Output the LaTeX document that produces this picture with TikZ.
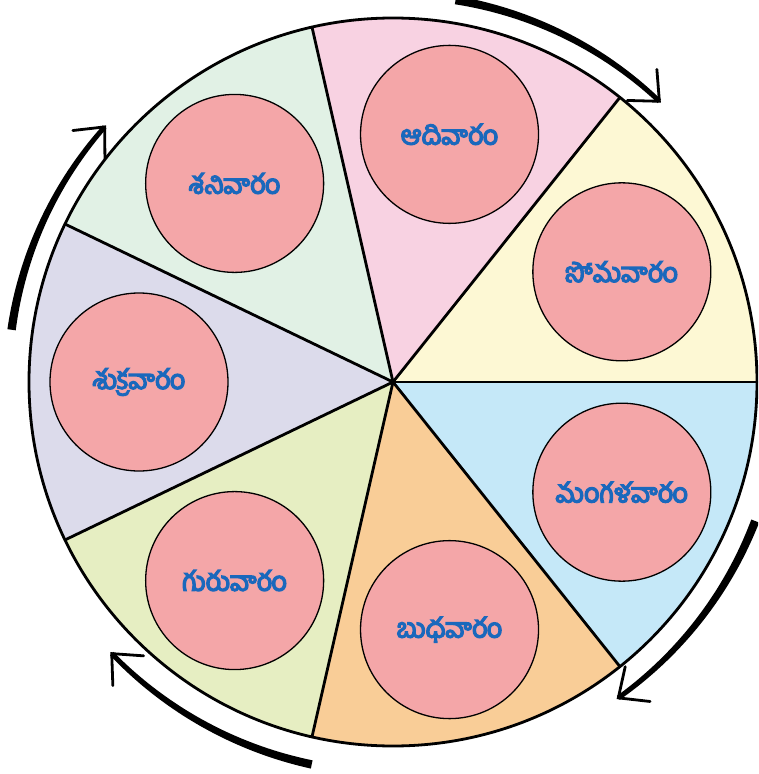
\documentclass[tikz,border=0pt]{standalone}
\usepackage{fontspec}
\newfontfamily\te[Script=Telugu, FakeBold=5]{Hind Guntur}
\definecolor{csun}{HTML}{F8D2E2}
\definecolor{cmon}{HTML}{FDF8D4}
\definecolor{ctue}{HTML}{C5E8F8}
\definecolor{cwed}{HTML}{F9CD97}
\definecolor{cthu}{HTML}{E6EEC2}
\definecolor{cfri}{HTML}{DCDBEB}
\definecolor{csat}{HTML}{E1F1E5}
\definecolor{dayfill}{HTML}{F4A6A8}
\definecolor{dayblue}{HTML}{1A68BC}
\newcommand{\cyclearrow}[3]{%
  \fill[black] plot[domain=#1:#2, samples=40, variable=\t]
    ({(#3+4.2-1.8*(\t-(#1))/((#2)-(#1)))*cos(\t)}, {(#3+4.2-1.8*(\t-(#1))/((#2)-(#1)))*sin(\t)})
    -- plot[domain=#2:#1, samples=40, variable=\t]
    ({(#3-4.2+1.8*(\t-(#1))/((#2)-(#1)))*cos(\t)}, {(#3-4.2+1.8*(\t-(#1))/((#2)-(#1)))*sin(\t)}) -- cycle;
  \draw[black, line width=2.8pt, line cap=round, line join=miter]
    ([shift={(#2+90+42:32)}]#2:#3) -- (#2:#3) -- ([shift={(#2+90-42:32)}]#2:#3);
}
\begin{document}
\begin{tikzpicture}[x=1pt,y=1pt,
  divider/.style={draw=black, line width=2.8pt, line cap=round},
  rim/.style={draw=black, line width=2.8pt},
  day/.style={circle, draw=black, line width=1.3pt, fill=dayfill, minimum size=178pt,
    inner sep=0pt, text=dayblue, font=\te\fontsize{27}{32}\selectfont}]
\useasboundingbox (-393,-392) rectangle (365,382);
\clip (-393,-392) rectangle (365,382);
\fill[white] (-393,-392) rectangle (365,382);
\coordinate (O) at (0,0);
\foreach \i/\c in {0/cmon,1/csun,2/csat,3/cfri,4/cthu,5/cwed,6/ctue}{
  \fill[\c] (O) -- ({\i*360/7}:364) arc[start angle={\i*360/7}, end angle={(\i+1)*360/7}, radius=364] -- cycle;
}
\foreach \i in {0,...,6}{
  \draw[divider] (O) -- ({\i*360/7}:364);
}
\draw[rim] (O) circle[radius=364];
\node[day] (sun) at (77.14:254) {ఆదివారం};
\node[day] (mon) at (25.71:254) {సోమవారం};
\node[day] (tue) at (-25.71:254) {మంగళవారం};
\node[day] (wed) at (-77.14:254) {బుధవారం};
\node[day] (thu) at (-128.57:254) {గురువారం};
\node[day] (fri) at (180:254) {శుక్రవారం};
\node[day] (sat) at (128.57:254) {శనివారం};
\cyclearrow{80.7}{46.5}{387}
\cyclearrow{-21}{-54.5}{388}
\cyclearrow{-102}{-136}{391}
\cyclearrow{172.2}{138.5}{385}
\end{tikzpicture}
\end{document}
